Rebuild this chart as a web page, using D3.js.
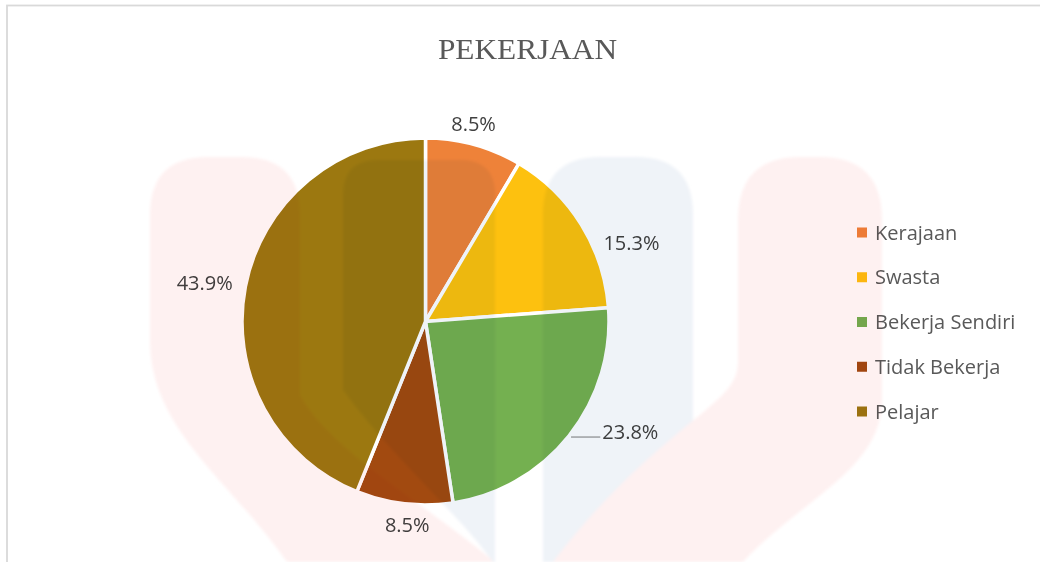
<!DOCTYPE html>
<html>
<head>
<meta charset="utf-8">
<script src="https://cdn.jsdelivr.net/npm/d3@7"></script>
<style>
  html, body { margin: 0; padding: 0; background: #ffffff; }
  svg { display: block; }
  .wm { mix-blend-mode: multiply; }
</style>
</head>
<body>
<svg id="chart" width="1040" height="562"></svg>
<script>
// ---- data ----
const title = "PEKERJAAN";
const categories = ["Kerajaan", "Swasta", "Bekerja Sendiri", "Tidak Bekerja", "Pelajar"];
const values = [8.5, 15.3, 23.8, 8.5, 43.9];
const palette = ["#EE8239", "#FDC10F", "#74B050", "#A24A10", "#9C7810"];

// ---- layout ----
const W = 1040, H = 562;
const cx = 425.5, cy = 321.5, R = 183.5;
const labelGap = 11;
const labelFont = 20;
// manual label moves (degrees / px) as done in the source chart
const labelNudge = [{da: -1, dr: 0}, {da: 8, dr: 0}, {da: -6.5, dr: 14, leader: true}, {da: -1.3, dr: 1}, {da: 0.3, dr: 2}];

const svg = d3.select("#chart");
const color = d3.scaleOrdinal().domain(categories).range(palette);

// chart area border
svg.append("rect")
  .attr("x", 7).attr("y", 5.5).attr("width", 1200).attr("height", 800)
  .attr("fill", "#ffffff").attr("stroke", "#D9D9D9").attr("stroke-width", 1.8);

// title
svg.append("text")
  .attr("transform", `translate(527.5,59.3) scale(1.08,1)`)
  .attr("text-anchor", "middle")
  .attr("font-family", "'Liberation Serif', 'Times New Roman', serif")
  .attr("font-size", 29)
  .attr("fill", "#595959")
  .text(title);

// pie
const pie = d3.pie().value(d => d.value).sort(null);
const arcs = pie(categories.map((c, i) => ({cat: c, value: values[i]})));
const arc = d3.arc().innerRadius(0).outerRadius(R);

const g = svg.append("g").attr("transform", `translate(${cx},${cy})`);
g.selectAll("path.slice").data(arcs).join("path")
  .attr("class", "slice")
  .attr("d", arc)
  .attr("fill", d => color(d.data.cat))
  .attr("stroke", "#ffffff")
  .attr("stroke-width", 3.5)
  .attr("stroke-linejoin", "round");

// data labels
const lg = svg.append("g")
  .attr("font-family", "'Open Sans', sans-serif")
  .attr("font-size", labelFont)
  .attr("fill", "#404040");

arcs.forEach((d, i) => {
  const nd = labelNudge[i];
  const mid = (d.startAngle + d.endAngle) / 2 + nd.da * Math.PI / 180;
  const r = R + labelGap + nd.dr;
  const px = cx + r * Math.sin(mid), py = cy - r * Math.cos(mid);
  const t = lg.append("text").text(d.data.value.toFixed(1) + "%");
  const bb = t.node().getBBox();
  const w = bb.width;
  const capH = labelFont * 0.714, boxH = labelFont * 0.9;
  const s = Math.sin(mid), c = Math.cos(mid);
  let bx, bcy; // box left, box vertical centre
  if (Math.abs(s) > 0.6) {
    bx = s > 0 ? px : px - w;
    bcy = py;
  } else {
    bx = px - w / 2;
    bcy = c > 0 ? py - boxH / 2 : py + boxH / 2;
  }
  t.attr("x", bx).attr("y", bcy + capH / 2);
  if (nd.leader) {
    const ly = bcy + 5;
    const ex = cx + Math.sqrt(R * R - (ly - cy) * (ly - cy));
    svg.append("line")
      .attr("x1", ex + 3).attr("y1", ly).attr("x2", bx - 2).attr("y2", ly)
      .attr("stroke", "#A6A6A6").attr("stroke-width", 1.5);
  }
});

// legend
const ly = d3.scalePoint().domain(categories).range([232.5, 411.5]);
const leg = svg.append("g");
const rows = leg.selectAll("g").data(categories).join("g")
  .attr("transform", d => `translate(857,${ly(d)})`);
rows.append("rect")
  .attr("x", 0).attr("y", -5).attr("width", 10).attr("height", 10)
  .attr("fill", d => color(d));
rows.append("text")
  .attr("x", 18).attr("y", 20 * 0.714 / 2)
  .attr("font-family", "'Open Sans', sans-serif")
  .attr("font-size", 20)
  .attr("fill", "#595959")
  .text(d => d);

// faint background watermark (multiplied over the page)
const defs = svg.append("defs");
defs.append("filter").attr("id", "soft")
  .attr("x", "-10%").attr("y", "-10%").attr("width", "120%").attr("height", "120%")
  .append("feGaussianBlur").attr("stdDeviation", 1.5);
const wm = svg.append("g").attr("class", "wm").attr("filter", "url(#soft)");
const pink = "#FEF1F1", blue = "#EFF3F8";
wm.append("path").attr("fill", pink)
  .attr("d", "M150,215 Q150,157 208,157 L242,157 Q300,157 300,215 L300,395 C330,450 420,500 495,562 L287,562 C230,480 150,430 150,340 Z");
wm.append("path").attr("fill", blue)
  .attr("d", "M343,195 Q343,160 378,160 L460,160 Q495,160 495,195 L495,562 L493,562 C460,515 390,455 343,390 Z");
wm.append("path").attr("fill", blue)
  .attr("d", "M543,215 Q543,157 600,157 L636,157 Q693,157 693,215 L693,562 L543,562 Z");
wm.append("path").attr("fill", pink)
  .attr("d", "M738,220 Q738,157 800,157 L820,157 Q882,157 882,220 L882,400 C882,470 800,500 743,562 L553,562 C600,500 650,455 700,415 C730,390 738,380 738,360 Z");
</script>
</body>
</html>
